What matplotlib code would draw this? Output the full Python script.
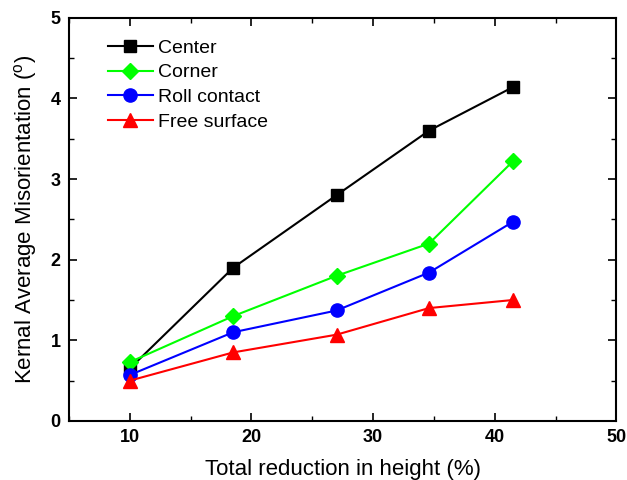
import matplotlib
matplotlib.use('Agg')
import matplotlib.pyplot as plt
from matplotlib.ticker import MultipleLocator

plt.rcParams['font.family'] = ['Liberation Sans', 'DejaVu Sans']
plt.rcParams['mathtext.fontset'] = 'custom'
plt.rcParams['mathtext.rm'] = 'Liberation Sans'

# reduction (%)
reduction = [10, 18.5, 27, 34.6, 41.5]
center = [0.65, 1.9, 2.8, 3.6, 4.14]
corner = [0.73, 1.3, 1.8, 2.2, 3.22]
roll_contact = [0.57, 1.1, 1.37, 1.84, 2.47]
free_surface = [0.5, 0.85, 1.07, 1.4, 1.5]

fig = plt.figure(figsize=(6.27, 4.8), dpi=100)
ax = fig.add_axes([0.110, 0.123, 0.873, 0.840])

ax.plot(reduction, center, '-s', color='black', lw=1.5, ms=8.5, label='Center')
ax.plot(reduction, corner, '-D', color='#00ff00', lw=1.5, ms=8.5, label='Corner')
ax.plot(reduction, roll_contact, '-o', color='blue', lw=1.5, ms=9.5, label='Roll contact')
ax.plot(reduction, free_surface, '-^', color='red', lw=1.5, ms=10.5, label='Free surface')

ax.set_xlim(5, 50)
ax.set_ylim(0, 5)
ax.xaxis.set_major_locator(MultipleLocator(10))
ax.xaxis.set_minor_locator(MultipleLocator(5))
ax.yaxis.set_major_locator(MultipleLocator(1))
ax.yaxis.set_minor_locator(MultipleLocator(0.5))
ax.tick_params(which='both', direction='in', top=True, right=True)
ax.tick_params(which='major', length=6, width=1.2, labelsize=13, pad=6)
ax.tick_params(which='minor', length=3.5, width=1)
for lab in ax.get_xticklabels() + ax.get_yticklabels():
    lab.set_fontweight('bold')
for s in ax.spines.values():
    s.set_linewidth(1.5)

ax.set_xlabel('Total reduction in height (%)', fontsize=16, labelpad=9)
ax.set_ylabel(r'Kernal Average Misorientation ($^{\rm o}$)', fontsize=16, labelpad=8)

ax.legend(loc='upper left', frameon=False, fontsize=14, handlelength=2.3,
          handletextpad=0.3, borderpad=0, borderaxespad=0, labelspacing=0.36,
          bbox_to_anchor=(0.071, 0.947))

fig.savefig('out.png')
